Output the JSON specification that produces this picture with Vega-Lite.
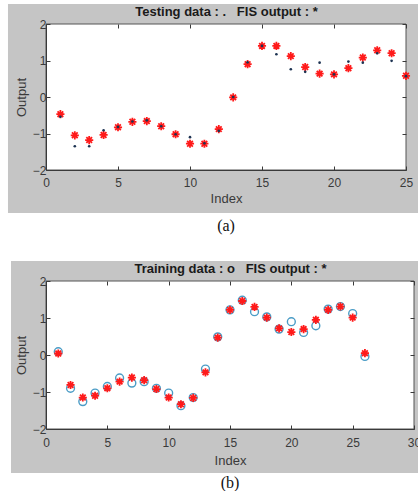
{
  "$schema": "https://vega.github.io/schema/vega-lite/v6.json",
  "background": "white",
  "padding": {"left": 7, "top": 3, "right": 0, "bottom": 0},
  "columns": 1,
  "align": "none",
  "spacing": 26,
  "config": {
    "view": {"stroke": null},
    "axis": {
      "grid": false,
      "labelFont": "Liberation Sans",
      "titleFont": "Liberation Sans",
      "labelFontSize": 12,
      "titleFontSize": 13,
      "titleFontWeight": "normal",
      "labelColor": "#3a3a3a",
      "titleColor": "#3a3a3a",
      "domainColor": "#3a3a3a",
      "tickColor": "#3a3a3a",
      "tickSize": -4,
      "labelFlush": false,
      "labelOverlap": false
    }
  },
  "concat": [
    {
      "width": 360,
      "height": 146,
      "title": {"text": "(a)", "orient": "bottom", "anchor": "middle", "offset": 5, "font": "Liberation Serif", "fontSize": 16, "fontWeight": "normal", "color": "#111111"},
      "resolve": {"axis": {"x": "independent", "y": "independent"}},
      "layer": [
        {
          "data": {"values": [{}]},
          "mark": {"type": "rect", "color": "#c5c5c5"},
          "encoding": {
            "x": {"datum": -2.64, "type": "quantitative", "scale": {"domain": [0, 25], "nice": false}, "axis": null},
            "x2": {"datum": 25.9},
            "y": {"datum": 2.548, "type": "quantitative", "scale": {"domain": [-2, 2], "nice": false}, "axis": null},
            "y2": {"datum": -3.178}
          }
        },
        {
          "data": {"values": [{}]},
          "mark": {"type": "rect", "fill": "white", "stroke": "#555555", "strokeWidth": 1},
          "encoding": {
            "x": {"datum": 0, "type": "quantitative", "axis": {"zindex": 1, "orient": "top", "title": "Testing data : .\u00a0\u00a0\u00a0FIS output : *", "titleFontWeight": "bold", "titleColor": "#1a1a1a", "titlePadding": 5, "labels": false, "domain": false, "values": [0, 5, 10, 15, 20, 25]}},
            "x2": {"datum": 25},
            "y": {"datum": -2, "type": "quantitative", "axis": {"zindex": 1, "orient": "right", "title": null, "labels": false, "domain": false, "values": [-2, -1, 0, 1, 2]}},
            "y2": {"datum": 2}
          }
        },
        {
          "data": {"name": "testing"},
          "mark": {"type": "point", "shape": "M-1,0L1,0M0,-1L0,1M-0.7,-0.7L0.7,0.7M-0.7,0.7L0.7,-0.7", "filled": false, "color": "#ff1a1a", "strokeWidth": 1.8, "size": 66, "opacity": 1},
          "encoding": {
            "x": {"field": "index", "type": "quantitative", "axis": {"zindex": 1, "orient": "bottom", "title": "Index", "values": [0, 5, 10, 15, 20, 25], "labelPadding": 11, "titlePadding": 4}},
            "y": {"field": "fis", "type": "quantitative", "axis": {"zindex": 1, "orient": "left", "title": "Output", "values": [-2, -1, 0, 1, 2], "labelPadding": 4, "titlePadding": 4}}
          }
        },
        {
          "data": {"name": "testing"},
          "mark": {"type": "circle", "size": 7, "color": "#1d3352", "opacity": 1},
          "encoding": {
            "x": {"field": "index", "type": "quantitative", "axis": null},
            "y": {"field": "test", "type": "quantitative", "axis": null}
          }
        }
      ]
    },
    {
      "width": 368,
      "height": 148,
      "title": {"text": "(b)", "orient": "bottom", "anchor": "middle", "offset": 2, "font": "Liberation Serif", "fontSize": 16, "fontWeight": "normal", "color": "#111111"},
      "resolve": {"axis": {"x": "independent", "y": "independent"}},
      "layer": [
        {
          "data": {"values": [{}]},
          "mark": {"type": "rect", "color": "#c5c5c5"},
          "encoding": {
            "x": {"datum": -2.853, "type": "quantitative", "scale": {"domain": [0, 30], "nice": false}, "axis": null},
            "x2": {"datum": 30.652},
            "y": {"datum": 2.541, "type": "quantitative", "scale": {"domain": [-2, 2], "nice": false}, "axis": null},
            "y2": {"datum": -3.189}
          }
        },
        {
          "data": {"values": [{}]},
          "mark": {"type": "rect", "fill": "white", "stroke": "#555555", "strokeWidth": 1},
          "encoding": {
            "x": {"datum": 0, "type": "quantitative", "axis": {"zindex": 1, "orient": "top", "title": "Training data : o\u00a0\u00a0\u00a0FIS output : *", "titleFontWeight": "bold", "titleColor": "#1a1a1a", "titlePadding": 5, "labels": false, "domain": false, "values": [0, 5, 10, 15, 20, 25, 30]}},
            "x2": {"datum": 30},
            "y": {"datum": -2, "type": "quantitative", "axis": {"zindex": 1, "orient": "right", "title": null, "labels": false, "domain": false, "values": [-2, -1, 0, 1, 2]}},
            "y2": {"datum": 2}
          }
        },
        {
          "data": {"name": "training"},
          "mark": {"type": "point", "shape": "circle", "filled": false, "color": "#4a9cc6", "strokeWidth": 1.4, "size": 62, "opacity": 1},
          "encoding": {
            "x": {"field": "index", "type": "quantitative", "axis": {"zindex": 1, "orient": "bottom", "title": "Index", "values": [0, 5, 10, 15, 20, 25, 30], "labelPadding": 12, "titlePadding": 6}},
            "y": {"field": "train", "type": "quantitative", "axis": {"zindex": 1, "orient": "left", "title": "Output", "values": [-2, -1, 0, 1, 2], "labelPadding": 4, "titlePadding": 4}}
          }
        },
        {
          "data": {"name": "training"},
          "mark": {"type": "point", "shape": "M-1,0L1,0M0,-1L0,1M-0.7,-0.7L0.7,0.7M-0.7,0.7L0.7,-0.7", "filled": false, "color": "#ff1a1a", "strokeWidth": 1.8, "size": 66, "opacity": 1},
          "encoding": {
            "x": {"field": "index", "type": "quantitative", "axis": null},
            "y": {"field": "fis", "type": "quantitative", "axis": null}
          }
        }
      ]
    }
  ],
  "datasets": {
    "testing": [
      {"index": 1, "test": -0.54, "fis": -0.47},
      {"index": 2, "test": -1.35, "fis": -1.05},
      {"index": 3, "test": -1.35, "fis": -1.18},
      {"index": 4, "test": -0.91, "fis": -1.04},
      {"index": 5, "test": -0.82, "fis": -0.83},
      {"index": 6, "test": -0.67, "fis": -0.68},
      {"index": 7, "test": -0.64, "fis": -0.66},
      {"index": 8, "test": -0.8, "fis": -0.8},
      {"index": 9, "test": -1.02, "fis": -1.02},
      {"index": 10, "test": -1.1, "fis": -1.28},
      {"index": 11, "test": -1.27, "fis": -1.28},
      {"index": 12, "test": -0.93, "fis": -0.88},
      {"index": 13, "test": 0.0, "fis": -0.01},
      {"index": 14, "test": 0.95, "fis": 0.9},
      {"index": 15, "test": 1.4, "fis": 1.4},
      {"index": 16, "test": 1.17, "fis": 1.4},
      {"index": 17, "test": 0.76, "fis": 1.12},
      {"index": 18, "test": 0.69, "fis": 0.82},
      {"index": 19, "test": 0.94, "fis": 0.64},
      {"index": 20, "test": 0.62, "fis": 0.62},
      {"index": 21, "test": 0.97, "fis": 0.79},
      {"index": 22, "test": 0.94, "fis": 1.08},
      {"index": 23, "test": 1.2, "fis": 1.28},
      {"index": 24, "test": 0.99, "fis": 1.2},
      {"index": 25, "test": 0.57, "fis": 0.58}
    ],
    "training": [
      {"index": 1, "train": 0.09, "fis": 0.04},
      {"index": 2, "train": -0.9, "fis": -0.81},
      {"index": 3, "train": -1.26, "fis": -1.15},
      {"index": 4, "train": -1.03, "fis": -1.1},
      {"index": 5, "train": -0.85, "fis": -0.9},
      {"index": 6, "train": -0.62, "fis": -0.72},
      {"index": 7, "train": -0.76, "fis": -0.61},
      {"index": 8, "train": -0.72, "fis": -0.68},
      {"index": 9, "train": -0.9, "fis": -0.92},
      {"index": 10, "train": -1.03, "fis": -1.15},
      {"index": 11, "train": -1.37, "fis": -1.33},
      {"index": 12, "train": -1.15, "fis": -1.16},
      {"index": 13, "train": -0.38, "fis": -0.47},
      {"index": 14, "train": 0.49, "fis": 0.47},
      {"index": 15, "train": 1.22, "fis": 1.22},
      {"index": 16, "train": 1.48, "fis": 1.46},
      {"index": 17, "train": 1.17, "fis": 1.3},
      {"index": 18, "train": 1.03, "fis": 1.01},
      {"index": 19, "train": 0.7, "fis": 0.72},
      {"index": 20, "train": 0.9, "fis": 0.62},
      {"index": 21, "train": 0.61, "fis": 0.7},
      {"index": 22, "train": 0.79, "fis": 0.95},
      {"index": 23, "train": 1.24, "fis": 1.22},
      {"index": 24, "train": 1.31, "fis": 1.31},
      {"index": 25, "train": 1.12, "fis": 1.01},
      {"index": 26, "train": -0.04, "fis": 0.05}
    ]
  }
}
